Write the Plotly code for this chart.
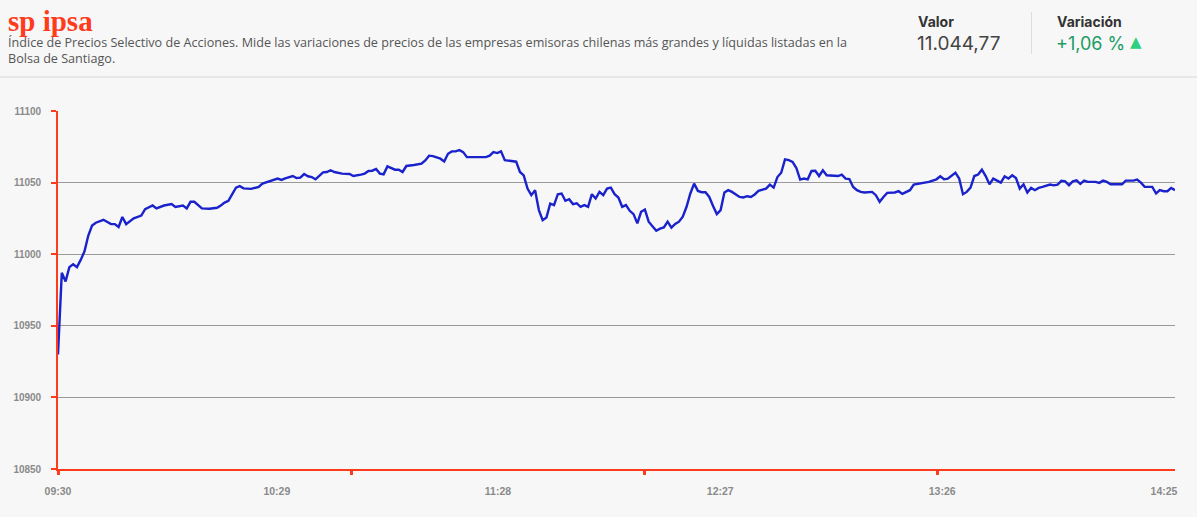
import plotly.graph_objects as go
import pandas as pd

# ---- data ----
minutes = [0, 1, 2, 3, 4, 5, 6, 7, 8, 9, 10, 12, 14, 15, 16, 17, 18, 19, 20, 22,
           23, 25, 26, 28, 30, 31, 33, 34, 35, 36, 38, 40, 42, 43, 44, 45, 47, 48, 49, 51,
           53, 54, 56, 58, 59, 60, 62, 63, 64, 65, 66, 67, 68, 70, 71, 72, 73, 75, 77, 78,
           80, 81, 82, 83, 84, 85, 86, 87, 89, 90, 91, 92, 94, 96, 97, 98, 99, 101, 102, 103,
           104, 105, 106, 107, 108, 110, 113, 114, 115, 116, 117, 118, 120, 121, 122, 123, 124, 125, 126, 127,
           128, 129, 130, 131, 132, 133, 134, 135, 136, 137, 138, 139, 140, 141, 142, 143, 144, 145, 146, 147,
           148, 149, 150, 151, 152, 153, 154, 155, 156, 157, 158, 159, 160, 161, 162, 163, 164, 165, 166, 167,
           168, 169, 170, 171, 172, 173, 174, 175, 176, 177, 178, 180, 181, 182, 183, 184, 185, 187, 188, 189,
           190, 191, 192, 193, 194, 195, 196, 197, 198, 199, 200, 201, 202, 203, 204, 206, 207, 208, 209, 210,
           211, 212, 213, 214, 215, 216, 217, 218, 219, 221, 222, 223, 225, 226, 228, 229, 230, 232, 233, 234,
           235, 237, 238, 239, 240, 241, 242, 243, 244, 245, 246, 247, 248, 249, 250, 251, 252, 253, 254, 255,
           256, 257, 258, 259, 260, 262, 263, 264, 265, 266, 267, 268, 269, 270, 271, 272, 274, 275, 276, 277,
           278, 281, 282, 284, 285, 286, 287, 289, 290, 291, 292, 293, 294, 295]
values = [10930, 10987, 10981, 10991, 10993, 10991, 10996, 11002, 11013, 11020, 11022, 11024, 11021, 11021, 11019, 11026, 11021, 11023, 11025, 11027,
          11031.5, 11034, 11032, 11034, 11035, 11033, 11034, 11032, 11036.6, 11036.6, 11032, 11031.7, 11032.4, 11034, 11036, 11037.3, 11046.5, 11047.5, 11046, 11045.6,
          11047, 11049.3, 11051, 11052.8, 11051.9, 11053, 11054.6, 11053.2, 11053.5, 11056, 11054.4, 11053.9, 11052.3, 11057.2, 11057.4, 11058.6, 11057.4, 11056.3, 11056, 11054.6,
          11055.6, 11056.3, 11058.1, 11058.3, 11059.5, 11056.3, 11055.8, 11061.3, 11059, 11059, 11057.4, 11061.6, 11062.3, 11063.2, 11065.5, 11068.8, 11068.5, 11066.7, 11064.8, 11070.1,
          11071.8, 11071.8, 11072.7, 11071.3, 11067.8, 11067.8, 11067.8, 11068.8, 11071.3, 11070.6, 11071.8, 11065.7, 11065, 11064.6, 11057.4, 11055.1, 11045.8, 11041.2, 11044.7, 11030.8,
          11023.8, 11025.7, 11035.4, 11034.3, 11041.9, 11042.4, 11037.3, 11038.4, 11035, 11035.6, 11033.1, 11034.3, 11033.1, 11041.9, 11038.9, 11043.5, 11041.2, 11045.8, 11046.5, 11041.9,
          11039.6, 11033.1, 11034.3, 11030.3, 11028, 11021.5, 11029.6, 11031.2, 11022.7, 11019.2, 11016.4, 11017.8, 11018.7, 11022.7, 11018.5, 11021.1, 11022.7, 11026.2, 11033.1, 11042.4,
          11049.3, 11044.2, 11043.3, 11043.3, 11040, 11033.6, 11028, 11030.8, 11043.1, 11044.7, 11043.5, 11040, 11039.6, 11040.5, 11040, 11041.7, 11044.2, 11045.8, 11048.6, 11046.5,
          11053.9, 11056.9, 11066.2, 11065.7, 11064.4, 11060.2, 11052.1, 11052.8, 11052.3, 11058.1, 11058.3, 11054.6, 11058.6, 11055.1, 11054.9, 11054.6, 11055.6, 11052.8, 11052.5, 11047,
          11044.7, 11043.5, 11043.1, 11043.5, 11043.5, 11041.2, 11036.6, 11040, 11042.8, 11043.1, 11044, 11042.1, 11044.7, 11048.6, 11049.3, 11049.8, 11050.5, 11052.3, 11054.4, 11052.3,
          11052.8, 11056.9, 11052.8, 11041.9, 11043.5, 11046.5, 11054.6, 11055.6, 11059, 11054.6, 11048.8, 11052.8, 11051.6, 11050, 11054.4, 11052.8, 11055.1, 11053.2, 11045.8, 11048.8,
          11043.1, 11046.3, 11044.7, 11046.3, 11047, 11048.6, 11048.1, 11048.6, 11051.2, 11050.9, 11048.1, 11050.9, 11051.6, 11049.1, 11051.4, 11050.5, 11050.5, 11049.8, 11051.4, 11050.5,
          11048.8, 11048.8, 11051.4, 11051.4, 11052.1, 11050, 11047, 11047, 11042.4, 11044.7, 11044, 11044, 11046.3, 11044.77]

x_labels = ["09:30", "10:29", "11:28", "12:27", "13:26", "14:25"]
x_label_pos = ["09:30:00", "10:27:48", "11:26:12", "12:24:54", "13:23:30", "14:22:06"]
x_tick_marks = ["09:30:00", "10:47:24", "12:04:48", "13:22:12"]
y_ticks = [10850, 10900, 10950, 11000, 11050, 11100]

title = "sp ipsa"
description = ("Índice de Precios Selectivo de Acciones. Mide las variaciones de precios de las empresas "
               "emisoras chilenas más grandes y líquidas listadas en la<br>Bolsa de Santiago.")
valor_label, valor = "Valor", "11.044,77"
var_label, variacion = "Variación", "+1,06 %"

# ---- styling ----
DAY = "2024-01-02 "
RED = "#ff3b1d"
BLUE = "#1a22cc"
BG = "#f7f7f7"
GREEN_TXT = "#1c9c64"
GREEN_TRI = "#2fcf82"

W, H = 1197, 517
L, R, T, B = 58, 22, 111, 48
PW, PH = W - L - R, H - T - B


def px(x):
    return (x - L) / PW


def py(y):
    return (H - B - y) / PH


t0 = pd.Timestamp(DAY + "09:30")
times = t0 + pd.to_timedelta(minutes, unit="m")

fig = go.Figure()
fig.add_trace(go.Scatter(x=times, y=values, mode="lines",
                         line=dict(color=BLUE, width=2.4), hoverinfo="x+y",
                         showlegend=False))

fig.update_layout(
    width=W, height=H,
    margin=dict(l=L, r=R, t=T, b=B),
    paper_bgcolor=BG, plot_bgcolor=BG,
    showlegend=False,
    xaxis=dict(
        type="date",
        range=[DAY + "09:30", DAY + "14:25"],
        tickvals=[DAY + v for v in x_label_pos],
        ticktext=x_labels,
        ticks="",
        ticklabelstandoff=12,
        showgrid=False,
        zeroline=False,
        showline=True, linecolor=RED, linewidth=1.6,
        tickfont=dict(family="Liberation Sans", size=10.5, color="#8a8a8a", weight="bold"),
        minor=dict(tickvals=[DAY + v for v in x_tick_marks], ticks="outside",
                   ticklen=4, tickwidth=2.5, tickcolor=RED, showgrid=False),
    ),
    yaxis=dict(
        range=[10850, 11100],
        tickvals=y_ticks,
        tickformat="d",
        ticks="outside", ticklen=5, tickwidth=1.5, tickcolor=RED,
        ticklabelstandoff=8,
        showgrid=True, gridcolor="#9a9a9a", gridwidth=1,
        zeroline=False,
        showline=True, linecolor=RED, linewidth=1.6,
        tickfont=dict(family="Liberation Sans", size=10, color="#8a8a8a", weight="bold"),
    ),
)

# header
fig.add_annotation(text="<b>" + title + "</b>", x=px(6), y=py(3), xref="paper", yref="paper",
                   xanchor="left", yanchor="top", showarrow=False,
                   font=dict(family="Liberation Serif", size=29, color=RED))
fig.add_annotation(text=description, x=px(6), y=py(32), xref="paper", yref="paper",
                   xanchor="left", yanchor="top", showarrow=False, align="left",
                   font=dict(family="Open Sans", size=12.6, color="#555555"))
fig.add_annotation(text="<b>" + valor_label + "</b>", x=px(916), y=py(21), xref="paper", yref="paper",
                   xanchor="left", yanchor="middle", showarrow=False,
                   font=dict(family="Inter", size=14, color="#333333"))
fig.add_annotation(text=valor, x=px(915), y=py(44), xref="paper", yref="paper",
                   xanchor="left", yanchor="middle", showarrow=False,
                   font=dict(family="Inter", size=19, color="#444444"))
fig.add_annotation(text="<b>" + var_label + "</b>", x=px(1055), y=py(21), xref="paper", yref="paper",
                   xanchor="left", yanchor="middle", showarrow=False,
                   font=dict(family="Inter", size=14, color="#333333"))
fig.add_annotation(text=variacion, x=px(1054), y=py(44), xref="paper", yref="paper",
                   xanchor="left", yanchor="middle", showarrow=False,
                   font=dict(family="Inter", size=18, color=GREEN_TXT))
fig.add_annotation(text="▲", x=px(1128), y=py(42), xref="paper", yref="paper",
                   xanchor="left", yanchor="middle", showarrow=False,
                   font=dict(family="DejaVu Sans", size=15, color=GREEN_TRI))

fig.add_shape(type="line", xref="paper", yref="paper",
              x0=px(1031.5), x1=px(1031.5), y0=py(12), y1=py(54),
              line=dict(color="#dddddd", width=1))
fig.add_shape(type="line", xref="paper", yref="paper",
              x0=px(0), x1=px(W), y0=py(77), y1=py(77),
              line=dict(color="#e2e2e2", width=1.5))

fig.write_html("out.html",
               config={"displayModeBar": False},
               post_script="document.body.style.margin='0';"
                           "document.body.style.background='" + BG + "';")
